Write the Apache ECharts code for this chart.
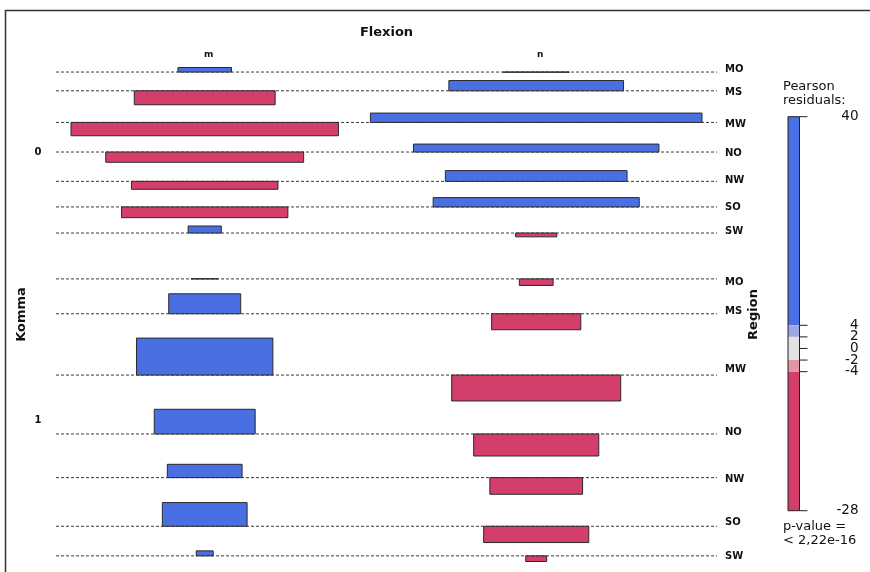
<!DOCTYPE html>
<html><head><meta charset="utf-8">
<script src="https://cdn.jsdelivr.net/npm/echarts@6/dist/echarts.min.js"></script>
<style>html,body{margin:0;padding:0;background:#fff}#c{width:870px;height:572px}</style>
</head><body><div id="c"></div>
<script>
// ---- data ----
const flexionLevels = ['m', 'n'];
const kommaLevels = ['0', '1'];
const regionLevels = ['MO', 'MS', 'MW', 'NO', 'NW', 'SO', 'SW'];

// Pearson residuals (Komma x Region x Flexion)
const residK0m = [4.9, -15.1, -14.4, -11.1, -8.6, -11.6, 7.6];
const residK0n = [-0.2, 11.1, 10.1, 8.6, 11.6, 10.1, -4.1];
const residK1m = [0.1, 21.6, 40.0, 26.7, 14.4, 25.6, 5.4];
const residK1n = [-7.1, -17.3, -28.0, -23.8, -18.0, -17.6, -6.1];

// square root of expected counts (bar widths)
const sqrtExpK0m = [26.8, 70.5, 133.8, 99.0, 73.3, 83.2, 16.6];
const sqrtExpK0n = [33.2, 87.4, 165.9, 122.8, 90.9, 103.1, 20.6];
const sqrtExpK1m = [13.7, 36.0, 68.2, 50.5, 37.4, 42.4, 8.5];
const sqrtExpK1n = [16.9, 44.6, 84.6, 62.6, 46.4, 52.6, 10.5];

const legendTicks = [40, 4, 2, 0, -2, -4, -28];
const legendMin = -28, legendMax = 40;
const legendBreaks = [40, 4, 2, -2, -4, -28];
const pValueText = 'p-value =\n< 2,22e-16';

// ---- layout ----
const residuals = [[residK0m, residK0n], [residK1m, residK1n]];
const sqrtExp = [[sqrtExpK0m, sqrtExpK0n], [sqrtExpK1m, sqrtExpK1n]];
const PAD = 7.5, COLGAP = 16, ROWGAP = 9, GROUPGAP = 45.4;
const maxW = [0, 1].map(f => Math.max(...sqrtExp[0][f], ...sqrtExp[1][f]));
const colCenter = [PAD + maxW[0] / 2, PAD + maxW[0] + COLGAP + maxW[1] / 2];
const xMax = 2 * PAD + maxW[0] + COLGAP + maxW[1];

const rows = [], groups = [], bars = [];
let y = 0;
kommaLevels.forEach((k, ki) => {
  if (ki > 0) y += GROUPGAP;
  const gStart = y;
  regionLevels.forEach((r, ri) => {
    if (ri > 0) y += ROWGAP;
    const res = [residuals[ki][0][ri], residuals[ki][1][ri]];
    const pos = Math.max(0, ...res);
    const neg = Math.max(0, ...res.map(v => -v));
    const top = y, base = y + pos;
    y = base + neg;
    rows.push([base, (top + y) / 2, ri]);
    res.forEach((v, fi) => bars.push([colCenter[fi], base, sqrtExp[ki][fi][ri], v]));
  });
  groups.push([(gStart + y) / 2, ki]);
});
const yMax = y;

const BLUE = '#4A6FE3', LBLUE = '#9DA8E2', GRAY = '#E2E2E2', PINK = '#E495A5', RED = '#D33F6A';
function colorFor(r) {
  if (r >= 4) return BLUE;
  if (r >= 2) return LBLUE;
  if (r > -2) return GRAY;
  if (r > -4) return PINK;
  return RED;
}
const FONT = 'DejaVu Sans';
const GRID_TOP = 67.5, GRID_H = 494, GRID_LEFT = 56, GRID_W = 661;

const chart = echarts.init(document.getElementById('c'), null, { renderer: 'canvas' });
const option = {
  animation: false,
  backgroundColor: '#fff',
  textStyle: { fontFamily: FONT },
  grid: [
    { left: GRID_LEFT, top: GRID_TOP, width: GRID_W, height: GRID_H },
    { left: 788, top: 116.7, width: 11.5, height: 394 }
  ],
  xAxis: [
    { type: 'value', min: 0, max: xMax, show: false, gridIndex: 0 },
    { type: 'value', min: 0, max: 1, show: false, gridIndex: 1 }
  ],
  yAxis: [
    { type: 'value', min: 0, max: yMax, inverse: true, show: false, gridIndex: 0 },
    {
      type: 'value', min: legendMin, max: legendMax, gridIndex: 1, position: 'right',
      axisLine: { show: false }, splitLine: { show: false },
      axisTick: { show: false },
      axisLabel: { customValues: legendTicks, align: 'right', margin: 59, fontSize: 13.5, color: '#111', fontFamily: FONT }
    }
  ],
  series: [
    {
      // baselines + region labels
      type: 'custom', xAxisIndex: 0, yAxisIndex: 0, clip: false, z: 1,
      data: rows,
      renderItem(params, api) {
        const base = api.value(0), mid = api.value(1), ri = api.value(2);
        const a = api.coord([0, base]), b = api.coord([xMax, base]);
        const lab = api.coord([xMax, mid]);
        return {
          type: 'group', children: [
            { type: 'line', shape: { x1: a[0], y1: a[1], x2: b[0], y2: b[1] },
              style: { stroke: '#3a3a3a', lineWidth: 1, lineDash: [3, 2] } },
            { type: 'text', x: lab[0] + 8, y: lab[1],
              style: { text: regionLevels[ri], fill: '#111', font: 'bold 10px ' + FONT, textAlign: 'left', textVerticalAlign: 'middle' } }
          ]
        };
      }
    },
    {
      // association bars
      type: 'custom', xAxisIndex: 0, yAxisIndex: 0, clip: false, z: 2,
      data: bars,
      renderItem(params, api) {
        const xc = api.value(0), base = api.value(1), w = api.value(2), r = api.value(3);
        const p1 = api.coord([xc - w / 2, base]);
        const p2 = api.coord([xc + w / 2, base - r]);
        return {
          type: 'rect',
          shape: { x: Math.min(p1[0], p2[0]), y: Math.min(p1[1], p2[1]), width: Math.abs(p2[0] - p1[0]), height: Math.abs(p2[1] - p1[1]) },
          style: { fill: colorFor(r), stroke: '#2a2a2a', lineWidth: 1 }
        };
      }
    },
    {
      // Komma level labels
      type: 'custom', xAxisIndex: 0, yAxisIndex: 0, clip: false, z: 2,
      data: groups,
      renderItem(params, api) {
        const p = api.coord([0, api.value(0)]);
        return { type: 'text', x: p[0] - 18, y: p[1],
          style: { text: kommaLevels[api.value(1)], fill: '#111', font: 'bold 10px ' + FONT, textAlign: 'center', textVerticalAlign: 'middle' } };
      }
    },
    {
      // Flexion level labels
      type: 'custom', xAxisIndex: 0, yAxisIndex: 0, clip: false, z: 2,
      data: colCenter.map((c, i) => [c, i]),
      renderItem(params, api) {
        const p = api.coord([api.value(0), 0]);
        return { type: 'text', x: p[0] + 4, y: 55,
          style: { text: flexionLevels[api.value(1)], fill: '#111', font: 'bold 9px ' + FONT, textAlign: 'center', textVerticalAlign: 'middle' } };
      }
    },
    {
      // legend colour bar
      type: 'custom', xAxisIndex: 1, yAxisIndex: 1, clip: false, z: 2,
      data: legendBreaks.slice(0, -1).map((v, i) => [v, legendBreaks[i + 1]]),
      renderItem(params, api) {
        const hi = api.value(0), lo = api.value(1);
        const p1 = api.coord([0, hi]), p2 = api.coord([1, lo]);
        const mid = (hi + lo) / 2;
        return { type: 'rect', shape: { x: p1[0], y: p1[1], width: p2[0] - p1[0], height: p2[1] - p1[1] },
          style: { fill: colorFor(mid >= 4 ? 5 : mid >= 2 ? 3 : mid > -2 ? 0 : mid > -4 ? -3 : -5) } };
      }
    },
    {
      // legend ticks
      type: 'custom', xAxisIndex: 1, yAxisIndex: 1, clip: false, z: 3,
      data: legendTicks.map(v => [v]),
      renderItem(params, api) {
        const p = api.coord([1, api.value(0)]);
        return { type: 'line', shape: { x1: p[0], y1: p[1], x2: p[0] + 8, y2: p[1] },
          style: { stroke: '#222', lineWidth: 1 } };
      }
    },
    {
      // legend frame
      type: 'custom', xAxisIndex: 1, yAxisIndex: 1, clip: false, z: 3,
      data: [[legendMax, legendMin]],
      renderItem(params, api) {
        const p1 = api.coord([0, api.value(0)]), p2 = api.coord([1, api.value(1)]);
        return { type: 'rect', shape: { x: p1[0], y: p1[1], width: p2[0] - p1[0], height: p2[1] - p1[1] },
          style: { fill: 'none', stroke: '#222', lineWidth: 1 } };
      }
    }
  ],
  graphic: [
    { type: 'polyline', shape: { points: [[5.5, 600], [5.5, 10.5], [900, 10.5]] }, style: { fill: null, stroke: '#333', lineWidth: 1.5 }, silent: true },
    { type: 'text', x: GRID_LEFT + GRID_W / 2, y: 33, style: { text: 'Flexion', font: 'bold 13px ' + FONT, fill: '#111', textAlign: 'center', textVerticalAlign: 'middle' } },
    { type: 'text', x: 22, y: GRID_TOP + GRID_H / 2, rotation: Math.PI / 2, style: { text: 'Komma', font: 'bold 13px ' + FONT, fill: '#111', textAlign: 'center', textVerticalAlign: 'middle' } },
    { type: 'text', x: 754, y: GRID_TOP + GRID_H / 2, rotation: Math.PI / 2, style: { text: 'Region', font: 'bold 13px ' + FONT, fill: '#111', textAlign: 'center', textVerticalAlign: 'middle' } },
    { type: 'text', x: 783, y: 80, style: { text: 'Pearson\nresiduals:', font: '13px ' + FONT, fill: '#111', lineHeight: 14 } },
    { type: 'text', x: 783, y: 520, style: { text: pValueText, font: '13px ' + FONT, fill: '#111', lineHeight: 14 } }
  ]
};
chart.setOption(option);
</script>
</body></html>
